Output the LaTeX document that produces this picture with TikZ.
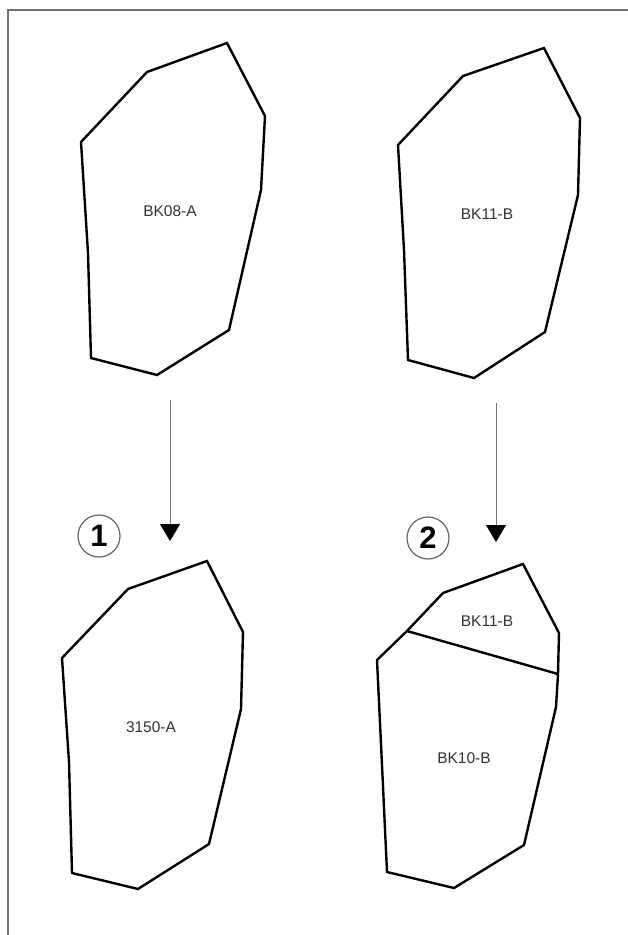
\documentclass[tikz,border=0pt]{standalone}
\usepackage{fontspec}
\setmainfont{Liberation Sans}
\usetikzlibrary{arrows.meta}
\begin{document}
\begin{tikzpicture}[x=1pt,y=-1pt,
  parcel/.style={draw=black,line width=2.4pt,line join=miter},
  lbl/.style={font=\fontsize{15.5}{18}\selectfont,text=black!80,inner sep=0pt},
  flow/.style={draw=black!55,line width=1pt,-{Triangle[width=20pt,length=17pt,black]}},
  stepnum/.style={circle,draw=black!60,line width=1.2pt,minimum size=42pt,inner sep=0pt,font=\fontsize{31}{31}\selectfont\bfseries}]
\useasboundingbox (0,0) rectangle (627,935);
\fill[white] (0,0) rectangle (627,935);
% frame (cropped at right and bottom)
\draw[black!55,line width=1.6pt] (8,945) -- (8,10) -- (640,10);
% parcel BK08-A
\draw[parcel] (227,43) -- (265,116) -- (261,190) -- (229,330) -- (157,375) -- (91,358) -- (88,253) -- (81,142) -- (147,72) -- cycle;
\node[lbl] (bk08a) at (170,211) {BK08-A};
% parcel BK11-B (top)
\draw[parcel] (544,48) -- (580,118) -- (578,195) -- (545,332) -- (474,378) -- (408,360) -- (404,250) -- (398,145) -- (463,76) -- cycle;
\node[lbl] (bk11b) at (487,214) {BK11-B};
% arrows
\coordinate (a1s) at (170,400);
\coordinate (a1e) at (170,541);
\draw[flow] (a1s) -- (a1e);
\coordinate (a2s) at (496,403);
\coordinate (a2e) at (496,542);
\draw[flow] (a2s) -- (a2e);
% step numbers
\node[stepnum] (n1) at (99,536) {1};
\node[stepnum] (n2) at (428,538) {2};
% parcel 3150-A
\draw[parcel] (207,561) -- (243,632) -- (241,709) -- (209,844) -- (138,889) -- (72,873) -- (69,762) -- (62,658) -- (128,589) -- cycle;
\node[lbl] (p3150) at (151,727) {3150-A};
% parcels BK11-B / BK10-B
\coordinate (dl) at (407,631);
\coordinate (dr) at (558,674);
\draw[parcel] (523,564) -- (559,633) -- (dr) -- (556,707) -- (524,845) -- (454,888) -- (387,872) -- (382,765) -- (377,660) -- (dl) -- (443,593) -- cycle;
\draw[parcel] (dl) -- (dr);
\node[lbl] (bk11b2) at (487,621) {BK11-B};
\node[lbl] (bk10b) at (464,758) {BK10-B};
\end{tikzpicture}
\end{document}
